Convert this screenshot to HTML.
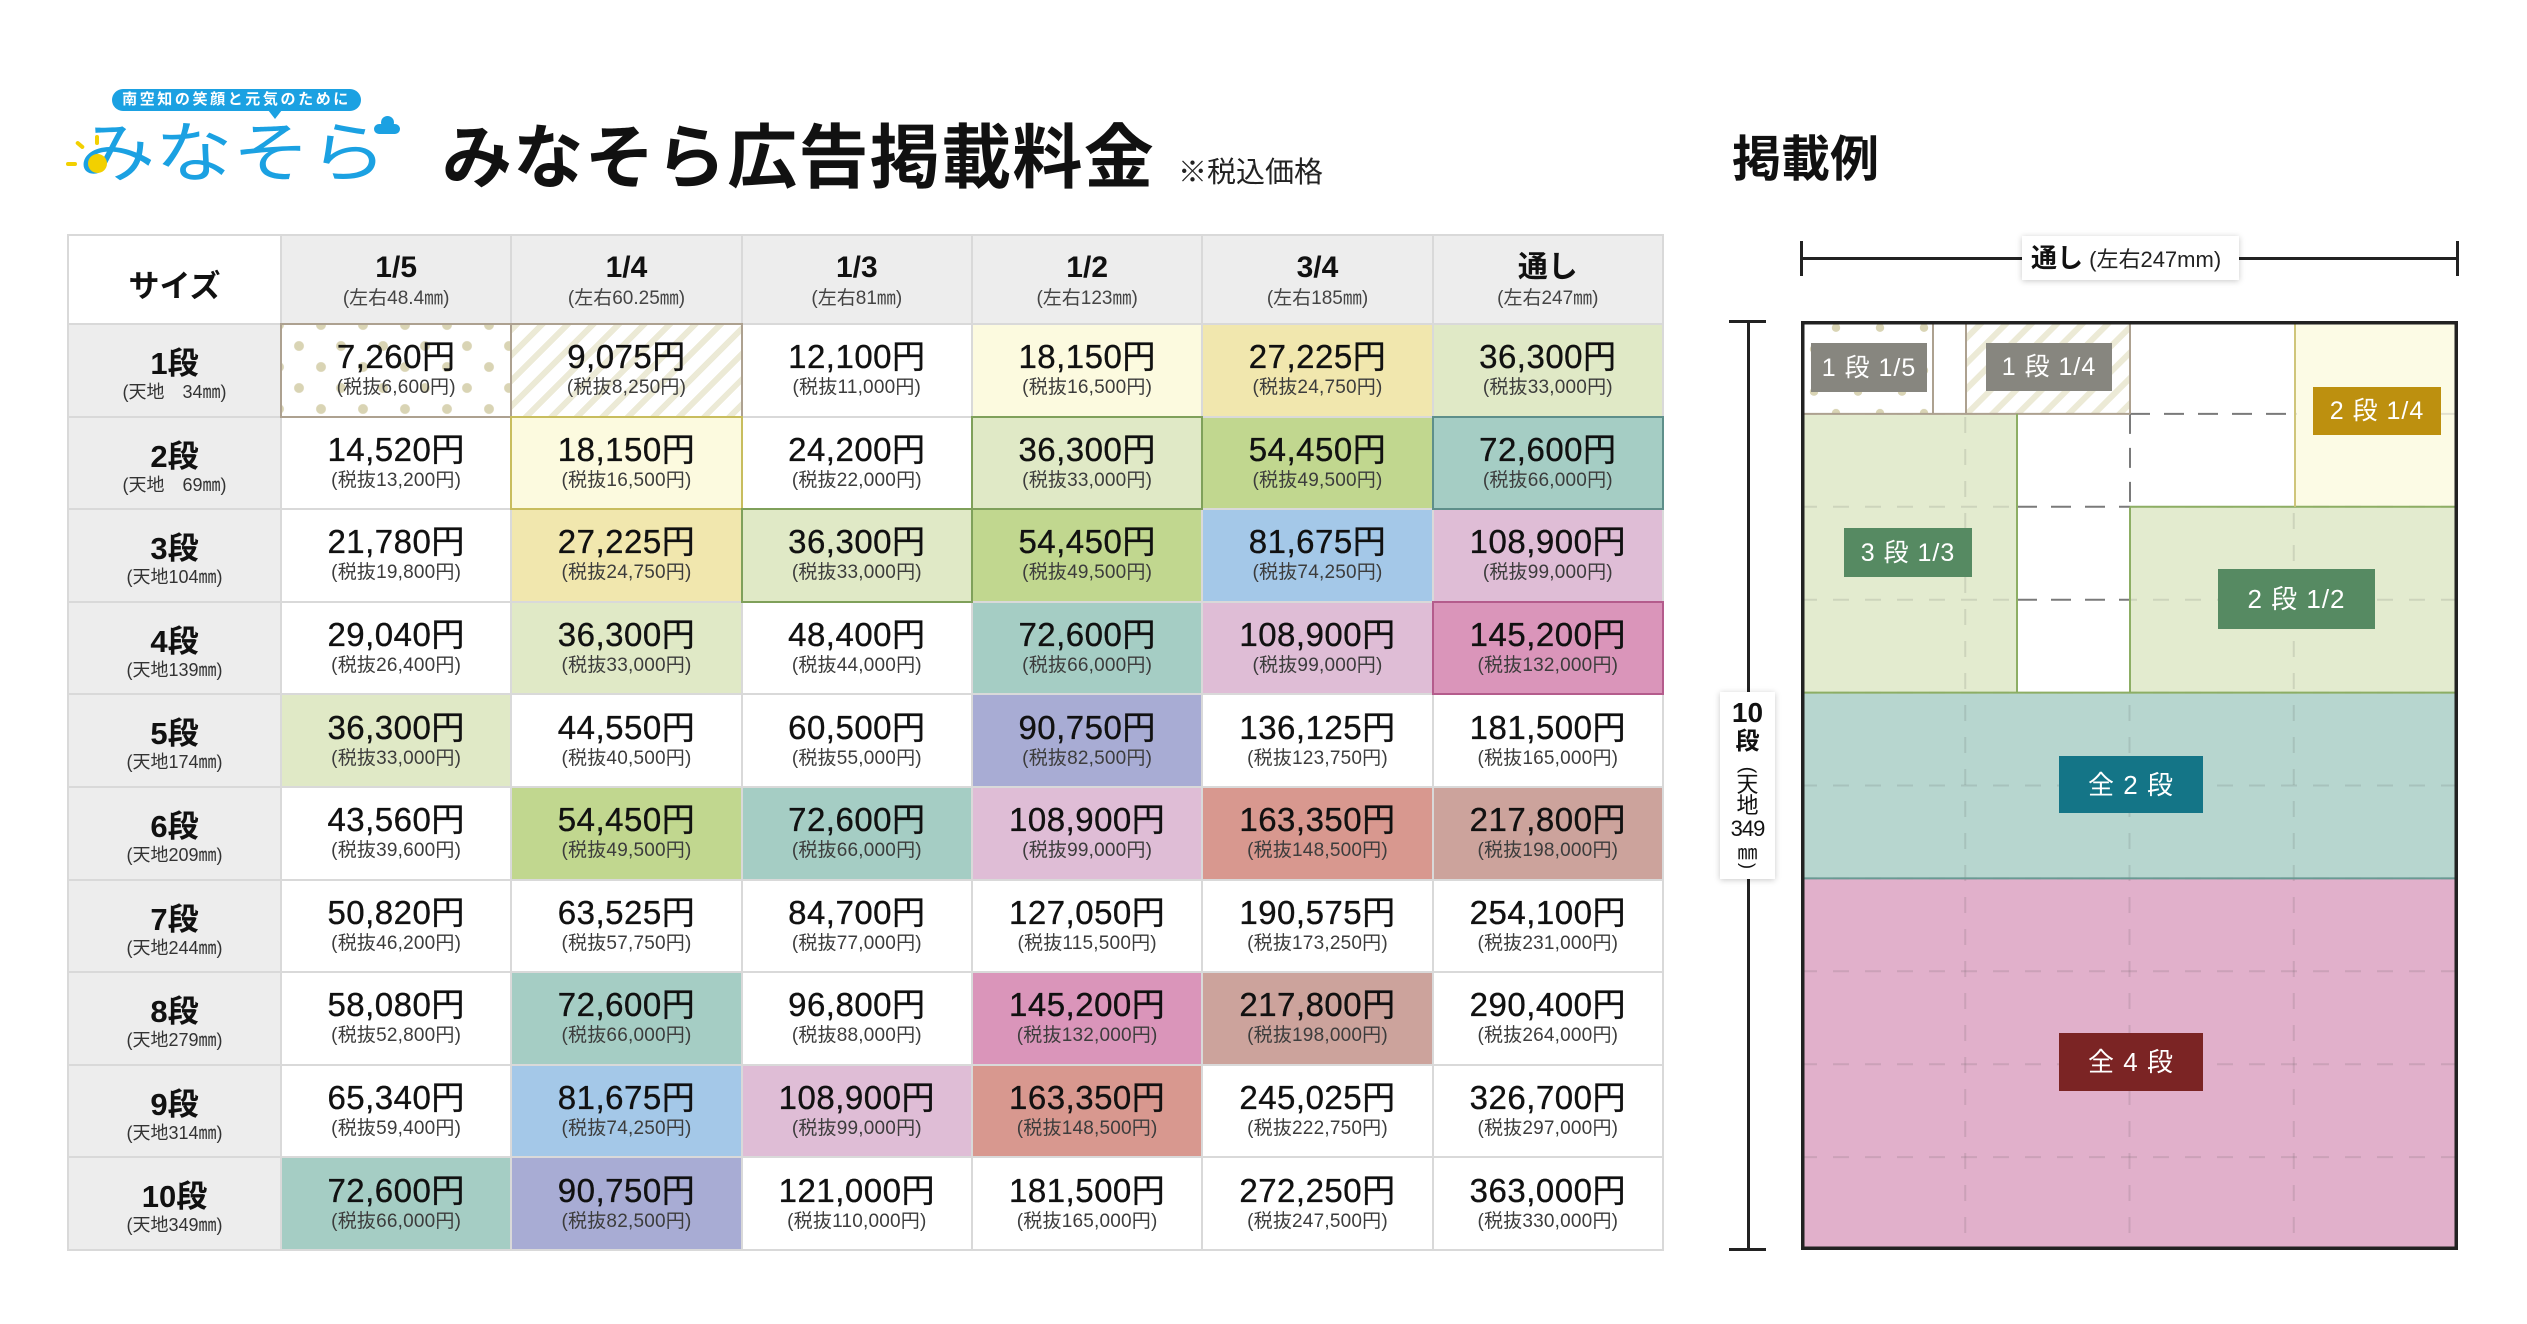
<!DOCTYPE html>
<html lang="ja">
<head>
<meta charset="utf-8">
<style>
*{margin:0;padding:0;box-sizing:border-box;}
html,body{width:2527px;height:1324px;}
body{position:relative;overflow:hidden;background:#fff;font-family:"Liberation Sans","Noto Sans CJK JP",sans-serif;color:#111;}
.abs{position:absolute;}
/* table */
.grid{position:absolute;left:67px;top:234px;width:1597px;height:1017px;padding:2px;background:#D9D9D9;display:grid;grid-template-columns:211px repeat(6,1fr);grid-template-rows:87px repeat(10,1fr);gap:2px;}
.grid>div{display:flex;flex-direction:column;align-items:center;justify-content:center;background:#fff;white-space:nowrap;}
.grid b,.grid i{display:block;font-style:normal;text-align:center;}
.c b{font-size:33px;line-height:36px;font-weight:400;letter-spacing:0.5px;color:#111;-webkit-text-stroke:0.35px #111;}
.c i{font-size:19px;line-height:26px;color:#3c3c3c;letter-spacing:0.2px;}
.grid>.h{background:#EDEDED;justify-content:flex-start;padding-top:15px;}
.h b{font-size:30px;line-height:34px;font-weight:700;}
.h i{font-size:19px;line-height:28px;color:#444;}
.grid>.h0{background:#fff;font-size:31px;font-weight:700;padding-top:8px;}
.grid>.r{background:#EDEDED;justify-content:flex-start;padding-top:22px;}
.r b{font-size:31px;line-height:34px;font-weight:700;}
.r i{font-size:18px;line-height:22px;color:#333;}
.grid>.y1{background:#FCFADF;}
.grid>.y2{background:#F1E7AE;}
.grid>.g1{background:#E0E9C6;}
.grid>.g2{background:#C1D78F;}
.grid>.t{background:#A5CDC4;}
.grid>.b{background:#A4C8E8;}
.grid>.p1{background:#DFBDD6;}
.grid>.p2{background:#DA95BA;}
.grid>.l{background:#A8ACD4;}
.grid>.s{background:#D8988F;}
.grid>.rr{background:#CCA39C;}
.grid>.dots{background:radial-gradient(circle at 21px 21px,#D9D4B4 4.5px,rgba(255,255,255,0) 5.3px) 18px -21px/42px 42px,radial-gradient(circle at 21px 21px,#D9D4B4 4.5px,rgba(255,255,255,0) 5.3px) -4px 0/42px 42px,#fff;outline:2px solid #ADA190;}
.grid>.stripes{background:repeating-linear-gradient(135deg,#ECEAD6 0 6px,#fff 6px 18px);outline:2px solid #ADA190;}
.bdY{outline:2px solid #C8BD5E;}
.bdG{outline:2px solid #7FA05A;}
.bdT{outline:2px solid #5E8F8A;}
.bdP{outline:2px solid #B45C8C;}
.dl{position:absolute;background:#222;}
.vt{position:absolute;left:0;width:55px;text-align:center;}
</style>
</head>
<body>

<!-- Logo -->
<div class="abs" style="left:112px;top:89px;width:249px;height:22px;border-radius:11px;background:#1BA1E2;color:#fff;font-size:15px;font-weight:700;line-height:22px;text-align:center;letter-spacing:2.6px;">南空知の笑顔と元気のために</div>
<div class="abs" style="left:268px;top:110px;width:0;height:0;border-left:7px solid transparent;border-right:7px solid transparent;border-top:9px solid #1BA1E2;"></div>
<div class="abs" style="left:78px;top:120px;font-size:66px;line-height:66px;font-weight:400;color:#1BA1E2;transform:scaleX(1.17);transform-origin:0 0;white-space:nowrap;">みなそら</div>
<div class="abs" style="left:88px;top:154px;width:19px;height:19px;border-radius:50%;background:#F2D000;"></div>
<div class="abs" style="left:66px;top:162px;width:11px;height:4px;border-radius:2px;background:#F2D000;"></div>
<div class="abs" style="left:75px;top:143px;width:10px;height:4px;border-radius:2px;background:#F2D000;transform:rotate(40deg);"></div>
<div class="abs" style="left:95px;top:135px;width:4px;height:10px;border-radius:2px;background:#F2D000;"></div>
<div class="abs" style="left:374px;top:124px;width:26px;height:10px;border-radius:5px;background:#1BA1E2;"></div>
<div class="abs" style="left:381px;top:116px;width:13px;height:13px;border-radius:50%;background:#1BA1E2;"></div>

<!-- Title -->
<div class="abs" style="left:442px;top:122px;font-size:70px;line-height:72px;font-weight:700;letter-spacing:1.3px;white-space:nowrap;color:#111;">みなそら広告掲載料金</div>
<div class="abs" style="left:1178px;top:158px;font-size:29px;line-height:30px;white-space:nowrap;color:#222;">※税込価格</div>
<div class="abs" style="left:1732px;top:134px;font-size:49px;line-height:52px;font-weight:700;white-space:nowrap;color:#111;">掲載例</div>

<!-- Table -->
<div class="grid">
<div class="h0">サイズ</div>
<div class="h"><b>1/5</b><i>(左右48.4㎜)</i></div>
<div class="h"><b>1/4</b><i>(左右60.25㎜)</i></div>
<div class="h"><b>1/3</b><i>(左右81㎜)</i></div>
<div class="h"><b>1/2</b><i>(左右123㎜)</i></div>
<div class="h"><b>3/4</b><i>(左右185㎜)</i></div>
<div class="h"><b>通し</b><i>(左右247㎜)</i></div>

<div class="r"><b>1段</b><i>(天地　34㎜)</i></div>
<div class="c dots"><b>7,260円</b><i>(税抜6,600円)</i></div>
<div class="c stripes"><b>9,075円</b><i>(税抜8,250円)</i></div>
<div class="c"><b>12,100円</b><i>(税抜11,000円)</i></div>
<div class="c y1"><b>18,150円</b><i>(税抜16,500円)</i></div>
<div class="c y2"><b>27,225円</b><i>(税抜24,750円)</i></div>
<div class="c g1"><b>36,300円</b><i>(税抜33,000円)</i></div>

<div class="r"><b>2段</b><i>(天地　69㎜)</i></div>
<div class="c"><b>14,520円</b><i>(税抜13,200円)</i></div>
<div class="c y1 bdY"><b>18,150円</b><i>(税抜16,500円)</i></div>
<div class="c"><b>24,200円</b><i>(税抜22,000円)</i></div>
<div class="c g1 bdG"><b>36,300円</b><i>(税抜33,000円)</i></div>
<div class="c g2"><b>54,450円</b><i>(税抜49,500円)</i></div>
<div class="c t bdT"><b>72,600円</b><i>(税抜66,000円)</i></div>

<div class="r"><b>3段</b><i>(天地104㎜)</i></div>
<div class="c"><b>21,780円</b><i>(税抜19,800円)</i></div>
<div class="c y2"><b>27,225円</b><i>(税抜24,750円)</i></div>
<div class="c g1 bdG"><b>36,300円</b><i>(税抜33,000円)</i></div>
<div class="c g2"><b>54,450円</b><i>(税抜49,500円)</i></div>
<div class="c b"><b>81,675円</b><i>(税抜74,250円)</i></div>
<div class="c p1"><b>108,900円</b><i>(税抜99,000円)</i></div>

<div class="r"><b>4段</b><i>(天地139㎜)</i></div>
<div class="c"><b>29,040円</b><i>(税抜26,400円)</i></div>
<div class="c g1"><b>36,300円</b><i>(税抜33,000円)</i></div>
<div class="c"><b>48,400円</b><i>(税抜44,000円)</i></div>
<div class="c t"><b>72,600円</b><i>(税抜66,000円)</i></div>
<div class="c p1"><b>108,900円</b><i>(税抜99,000円)</i></div>
<div class="c p2 bdP"><b>145,200円</b><i>(税抜132,000円)</i></div>

<div class="r"><b>5段</b><i>(天地174㎜)</i></div>
<div class="c g1"><b>36,300円</b><i>(税抜33,000円)</i></div>
<div class="c"><b>44,550円</b><i>(税抜40,500円)</i></div>
<div class="c"><b>60,500円</b><i>(税抜55,000円)</i></div>
<div class="c l"><b>90,750円</b><i>(税抜82,500円)</i></div>
<div class="c"><b>136,125円</b><i>(税抜123,750円)</i></div>
<div class="c"><b>181,500円</b><i>(税抜165,000円)</i></div>

<div class="r"><b>6段</b><i>(天地209㎜)</i></div>
<div class="c"><b>43,560円</b><i>(税抜39,600円)</i></div>
<div class="c g2"><b>54,450円</b><i>(税抜49,500円)</i></div>
<div class="c t"><b>72,600円</b><i>(税抜66,000円)</i></div>
<div class="c p1"><b>108,900円</b><i>(税抜99,000円)</i></div>
<div class="c s"><b>163,350円</b><i>(税抜148,500円)</i></div>
<div class="c rr"><b>217,800円</b><i>(税抜198,000円)</i></div>

<div class="r"><b>7段</b><i>(天地244㎜)</i></div>
<div class="c"><b>50,820円</b><i>(税抜46,200円)</i></div>
<div class="c"><b>63,525円</b><i>(税抜57,750円)</i></div>
<div class="c"><b>84,700円</b><i>(税抜77,000円)</i></div>
<div class="c"><b>127,050円</b><i>(税抜115,500円)</i></div>
<div class="c"><b>190,575円</b><i>(税抜173,250円)</i></div>
<div class="c"><b>254,100円</b><i>(税抜231,000円)</i></div>

<div class="r"><b>8段</b><i>(天地279㎜)</i></div>
<div class="c"><b>58,080円</b><i>(税抜52,800円)</i></div>
<div class="c t"><b>72,600円</b><i>(税抜66,000円)</i></div>
<div class="c"><b>96,800円</b><i>(税抜88,000円)</i></div>
<div class="c p2"><b>145,200円</b><i>(税抜132,000円)</i></div>
<div class="c rr"><b>217,800円</b><i>(税抜198,000円)</i></div>
<div class="c"><b>290,400円</b><i>(税抜264,000円)</i></div>

<div class="r"><b>9段</b><i>(天地314㎜)</i></div>
<div class="c"><b>65,340円</b><i>(税抜59,400円)</i></div>
<div class="c b"><b>81,675円</b><i>(税抜74,250円)</i></div>
<div class="c p1"><b>108,900円</b><i>(税抜99,000円)</i></div>
<div class="c s"><b>163,350円</b><i>(税抜148,500円)</i></div>
<div class="c"><b>245,025円</b><i>(税抜222,750円)</i></div>
<div class="c"><b>326,700円</b><i>(税抜297,000円)</i></div>

<div class="r"><b>10段</b><i>(天地349㎜)</i></div>
<div class="c t"><b>72,600円</b><i>(税抜66,000円)</i></div>
<div class="c l"><b>90,750円</b><i>(税抜82,500円)</i></div>
<div class="c"><b>121,000円</b><i>(税抜110,000円)</i></div>
<div class="c"><b>181,500円</b><i>(税抜165,000円)</i></div>
<div class="c"><b>272,250円</b><i>(税抜247,500円)</i></div>
<div class="c"><b>363,000円</b><i>(税抜330,000円)</i></div>
</div>

<!-- Dimension lines -->
<div class="dl" style="left:1801px;top:256.5px;width:657px;height:3px;"></div>
<div class="dl" style="left:1800px;top:241px;width:3px;height:35px;"></div>
<div class="dl" style="left:2456px;top:241px;width:3px;height:35px;"></div>
<div class="abs" style="left:2022px;top:236px;width:217px;height:44px;background:#fff;box-shadow:0 1px 6px rgba(0,0,0,0.22);white-space:nowrap;line-height:44px;padding-left:9px;">
<span style="font-size:26px;font-weight:700;color:#111;">通し</span><span style="font-size:22px;color:#222;"> (左右247mm)</span>
</div>

<div class="dl" style="left:1746.5px;top:321px;width:3px;height:929px;"></div>
<div class="dl" style="left:1729px;top:319.5px;width:37px;height:3px;"></div>
<div class="dl" style="left:1729px;top:1247.5px;width:37px;height:3px;"></div>
<div class="abs" style="left:1720px;top:692px;width:55px;height:187px;background:#fff;box-shadow:0 1px 6px rgba(0,0,0,0.22);color:#111;">
<div class="vt" style="top:7px;font-size:28px;line-height:28px;font-weight:700;">10</div>
<div class="vt" style="top:38px;font-size:24px;line-height:24px;font-weight:700;">段</div>
<div class="vt" style="top:68px;font-size:20px;line-height:20px;"><span style="display:inline-block;transform:rotate(90deg);">(</span></div>
<div class="vt" style="top:82px;font-size:22px;line-height:22px;">天</div>
<div class="vt" style="top:103px;font-size:22px;line-height:22px;">地</div>
<div class="vt" style="top:125px;font-size:22px;line-height:23px;letter-spacing:-1px;">349</div>
<div class="vt" style="top:150px;font-size:20px;line-height:22px;">㎜</div>
<div class="vt" style="top:165px;font-size:18px;line-height:18px;"><span style="display:inline-block;transform:rotate(90deg);">)</span></div>
</div>

<!-- Diagram -->
<svg class="abs" style="left:1801px;top:321px;overflow:visible;" width="657" height="929" viewBox="0 0 657 929" xmlns="http://www.w3.org/2000/svg">
<defs>
<pattern id="dots" patternUnits="userSpaceOnUse" width="44" height="42.7">
<rect width="44" height="42.7" fill="#fff"/>
<circle cx="35" cy="6.7" r="4.2" fill="#D9D4B4"/>
<circle cx="13" cy="28" r="4.2" fill="#D9D4B4"/>
</pattern>
<pattern id="stripes" patternUnits="userSpaceOnUse" width="18" height="18" patternTransform="rotate(45)">
<rect width="18" height="18" fill="#fff"/>
<rect width="6" height="18" fill="#ECEAD6"/>
</pattern>
<clipPath id="colored">
<rect x="494" y="0" width="163" height="185.8"/>
<rect x="0" y="92.9" width="216" height="278.7"/>
<rect x="329" y="185.8" width="328" height="185.8"/>
<rect x="0" y="371.6" width="657" height="557.4"/>
</clipPath>
</defs>
<rect width="657" height="929" fill="#fff"/>
<rect x="0" y="0" width="132" height="92.9" fill="url(#dots)"/>
<rect x="165" y="0" width="164" height="92.9" fill="url(#stripes)"/>
<rect x="494" y="0" width="163" height="185.8" fill="#FCFBE5"/>
<rect x="0" y="92.9" width="216" height="278.7" fill="#E3EBCF"/>
<rect x="329" y="185.8" width="328" height="185.8" fill="#E3EBCF"/>
<rect x="0" y="371.6" width="657" height="185.8" fill="#B7D6CF"/>
<rect x="0" y="557.4" width="657" height="371.6" fill="#E1B0CB"/>

<g clip-path="url(#colored)" stroke="rgba(80,80,80,0.15)" stroke-width="2" fill="none">
<g stroke-dasharray="16 16">
<line x1="164.25" y1="0" x2="164.25" y2="929"/>
<line x1="328.5" y1="0" x2="328.5" y2="929"/>
<line x1="492.75" y1="0" x2="492.75" y2="929"/>
<line x1="0" y1="92.9" x2="657" y2="92.9"/>
<line x1="0" y1="185.8" x2="657" y2="185.8"/>
<line x1="0" y1="278.7" x2="657" y2="278.7"/>
<line x1="0" y1="371.6" x2="657" y2="371.6"/>
<line x1="0" y1="464.5" x2="657" y2="464.5"/>
<line x1="0" y1="557.4" x2="657" y2="557.4"/>
<line x1="0" y1="650.3" x2="657" y2="650.3"/>
<line x1="0" y1="743.2" x2="657" y2="743.2"/>
<line x1="0" y1="836.1" x2="657" y2="836.1"/>
</g>
</g>

<g stroke="#7a7a7a" stroke-width="2" stroke-dasharray="20 14" fill="none">
<line x1="329" y1="92.9" x2="494" y2="92.9"/>
<line x1="329" y1="92.9" x2="329" y2="185.8"/>
<line x1="216" y1="185.8" x2="329" y2="185.8"/>
<line x1="216" y1="278.7" x2="329" y2="278.7"/>
</g>

<g stroke="#ADA190" stroke-width="2">
<line x1="132" y1="0" x2="132" y2="92.9"/>
<line x1="165" y1="0" x2="165" y2="92.9"/>
<line x1="329" y1="0" x2="329" y2="92.9"/>
<line x1="0" y1="92.9" x2="329" y2="92.9"/>
</g>
<g stroke="#8DAE64" stroke-width="2">
<line x1="216" y1="92.9" x2="216" y2="371.6"/>
<line x1="329" y1="185.8" x2="329" y2="371.6"/>
<line x1="329" y1="185.8" x2="657" y2="185.8"/>
<line x1="0" y1="371.6" x2="657" y2="371.6"/>
</g>
<line x1="494" y1="0" x2="494" y2="185.8" stroke="#CFC57A" stroke-width="2"/>
<line x1="0" y1="557.4" x2="657" y2="557.4" stroke="#6A9A93" stroke-width="2"/>

<rect x="1.75" y="1.75" width="653.5" height="925.5" fill="none" stroke="#222" stroke-width="3.5"/>

<g font-family="Liberation Sans, Noto Sans CJK JP, sans-serif" fill="#fff" text-anchor="middle" dominant-baseline="central" letter-spacing="1">
<rect x="10" y="22" width="116" height="49" fill="#87867F"/>
<text x="68" y="47" font-size="25">1 段 1/5</text>
<rect x="185" y="22" width="126" height="48" fill="#87867F"/>
<text x="248" y="46" font-size="25">1 段 1/4</text>
<rect x="512" y="66" width="128" height="48" fill="#BD900F"/>
<text x="576" y="90" font-size="25">2 段 1/4</text>
<rect x="43" y="207" width="128" height="49" fill="#568A62"/>
<text x="107" y="232" font-size="25">3 段 1/3</text>
<rect x="417" y="248" width="157" height="60" fill="#568A62"/>
<text x="495.5" y="278" font-size="26">2 段 1/2</text>
<rect x="258" y="435" width="144" height="57" fill="#147587"/>
<text x="330" y="464" font-size="26">全 2 段</text>
<rect x="258" y="712" width="144" height="58" fill="#7B2424"/>
<text x="330" y="741" font-size="26">全 4 段</text>
</g>
</svg>

</body>
</html>
